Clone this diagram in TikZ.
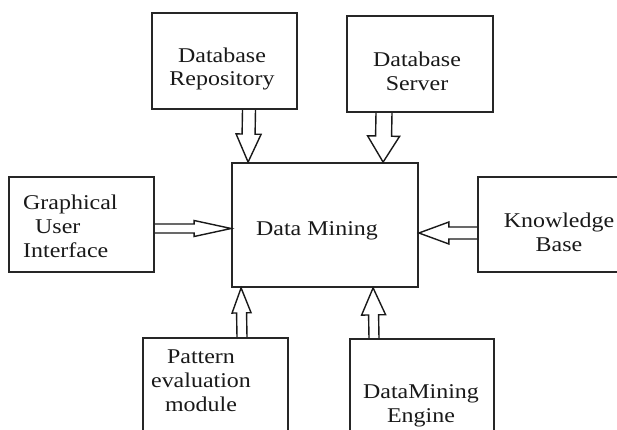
\documentclass[tikz,border=0pt]{standalone}
\usepackage{fontspec}
\setmainfont{Liberation Serif}[FakeStretch=1.14]
\usetikzlibrary{calc}
\tikzset{
  box/.style={draw=black!85, line width=1.8pt, rectangle, inner sep=0pt},
  lbl/.style={anchor=base, inner sep=0pt, text=black!90},
  arrowline/.style={draw=black!90, line width=1.4pt, line join=miter},
}
\newcommand\blockarr[5]{%
  \path ($(#2)!#5!(#1)$) coordinate (ba-h);
  \draw[arrowline] ($(#1)!#3!90:(#2)$) -- ($(ba-h)!#3!90:(#2)$) -- ($(ba-h)!#4!90:(#2)$) -- (#2)
     -- ($(ba-h)!#4!-90:(#2)$) -- ($(ba-h)!#3!-90:(#2)$) -- ($(#1)!#3!-90:(#2)$);
}
\begin{document}
\begin{tikzpicture}[x=1pt, y=-1pt, font=\fontsize{21}{24}\selectfont]
\useasboundingbox (0,0) rectangle (617,430);
\fill[white] (0,0) rectangle (617,430);
\clip (0,0) rectangle (617,430);

% boxes
\node[box, minimum width=145pt, minimum height=96pt]  (dr)  at (224.5,61) {};
\node[box, minimum width=146pt, minimum height=96pt]  (ds)  at (420,64) {};
\node[box, minimum width=145pt, minimum height=95pt]  (gui) at (81.5,224.5) {};
\node[box, minimum width=186pt, minimum height=124pt] (dm)  at (325,225) {};
\node[box, minimum width=162pt, minimum height=95pt]  (kb)  at (559,224.5) {};
\node[box, minimum width=145pt, minimum height=122pt] (pe)  at (215.5,399) {};
\node[box, minimum width=144pt, minimum height=121pt] (en)  at (422,399.5) {};

% labels
\node[lbl] (tdr) at (222,63) {\parbox[t]{140pt}{\centering\fontsize{21}{23}\selectfont Database\\Repository}};
\node[lbl] (tds) at (417,67) {\parbox[t]{140pt}{\centering Database\\Server}};
\node[lbl, anchor=base west] (tgui) at (23,209) {\parbox[t]{130pt}{\raggedright Graphical\\\hspace*{12pt}User\\Interface}};
\node[lbl] (tdm) at (317,235) {Data Mining};
\node[lbl] (tkb) at (559,227) {\parbox[t]{140pt}{\centering Knowledge\\Base}};
\node[lbl] (tpe) at (201,363) {\parbox[t]{140pt}{\centering Pattern\\evaluation\\module}};
\node[lbl] (ten) at (421,398) {\parbox[t]{140pt}{\centering DataMining\\Engine}};

% connector end points
\coordinate (a1s) at ($(dr.south)+(24.5,0)$);
\coordinate (a1e) at ($(dm.north west)+(17,0)$);
\coordinate (a2s) at ($(ds.south)+(-36,0)$);
\coordinate (a2e) at ($(dm.north west)+(152,0)$);
\coordinate (a3s) at ($(gui.east)+(0,4)$);
\coordinate (a3e) at ($(dm.west)+(0,3.5)$);
\coordinate (a4s) at ($(kb.west)+(0,8.5)$);
\coordinate (a4e) at ($(dm.east)+(0,8)$);
\coordinate (a5s) at ($(pe.north)+(26.5,0)$);
\coordinate (a5e) at ($(dm.south west)+(10,0)$);
\coordinate (a6s) at ($(en.north)+(-48,0)$);
\coordinate (a6e) at ($(dm.south west)+(142,0)$);

% block arrows
\blockarr{a1s}{a1e}{6.5pt}{12.5pt}{28pt}
\blockarr{a2s}{a2e}{8pt}{16pt}{26pt}
\blockarr{a3s}{a3e}{4.5pt}{8pt}{37pt}
\blockarr{a4s}{a4e}{6pt}{11pt}{30pt}
\blockarr{a5s}{a5e}{5pt}{9.5pt}{25pt}
\blockarr{a6s}{a6e}{5pt}{12pt}{27pt}
\end{tikzpicture}
\end{document}
